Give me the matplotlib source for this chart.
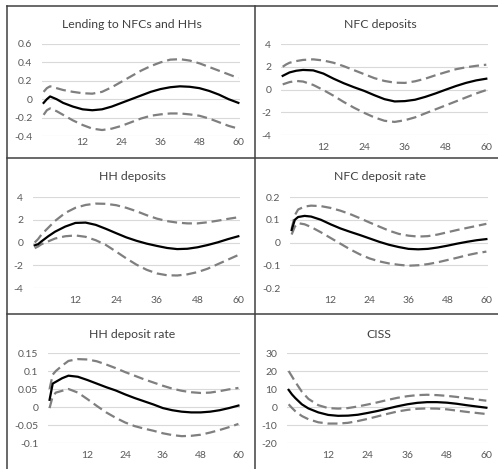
import matplotlib
matplotlib.use("Agg")
import matplotlib.pyplot as plt
from matplotlib.lines import Line2D

# Impulse responses (median and band) at selected horizons, in months
horizons = [0, 1, 2, 4, 6, 9, 12, 15, 18, 21, 24, 27, 30, 33, 36, 39, 42, 45, 48, 51, 54, 57, 60]

lending_mid = [-0.04, 0.0, 0.03, 0.0, -0.04, -0.08, -0.11, -0.12, -0.11, -0.08, -0.04, 0.0, 0.04,
               0.08, 0.11, 0.13, 0.14, 0.135, 0.12, 0.09, 0.05, 0.0, -0.04]
lending_lo = [-0.17, -0.12, -0.10, -0.13, -0.17, -0.23, -0.28, -0.32, -0.335, -0.32, -0.29, -0.25,
              -0.21, -0.18, -0.165, -0.155, -0.155, -0.165, -0.18, -0.21, -0.25, -0.29, -0.32]
lending_hi = [0.08, 0.12, 0.14, 0.12, 0.10, 0.08, 0.065, 0.06, 0.08, 0.13, 0.19, 0.25, 0.31, 0.36,
              0.40, 0.43, 0.435, 0.42, 0.39, 0.35, 0.31, 0.27, 0.23]

nfc_dep_mid = [1.2, 1.35, 1.5, 1.65, 1.72, 1.68, 1.4, 0.95, 0.55, 0.2, -0.12, -0.5, -0.85, -1.05,
               -1.02, -0.9, -0.65, -0.35, -0.02, 0.3, 0.58, 0.8, 0.95]
nfc_dep_lo = [0.45, 0.55, 0.65, 0.75, 0.7, 0.4, -0.05, -0.55, -1.1, -1.6, -2.05, -2.45, -2.75,
              -2.85, -2.7, -2.45, -2.1, -1.75, -1.4, -1.05, -0.7, -0.35, -0.05]
nfc_dep_hi = [2.0, 2.2, 2.35, 2.5, 2.6, 2.65, 2.55, 2.35, 2.05, 1.7, 1.35, 1.0, 0.75, 0.6, 0.58,
              0.72, 0.95, 1.25, 1.52, 1.78, 1.95, 2.08, 2.18]

hh_dep_mid = [-0.25, -0.15, 0.1, 0.55, 0.95, 1.4, 1.72, 1.75, 1.55, 1.2, 0.82, 0.45, 0.15, -0.1,
              -0.3, -0.48, -0.58, -0.55, -0.42, -0.22, 0.02, 0.3, 0.55]
hh_dep_lo = [-0.5, -0.35, -0.15, 0.1, 0.35, 0.55, 0.62, 0.5, 0.2, -0.22, -0.8, -1.4, -1.95, -2.4,
             -2.72, -2.88, -2.9, -2.8, -2.6, -2.3, -1.9, -1.5, -1.1]
hh_dep_hi = [0.0, 0.3, 0.7, 1.3, 1.9, 2.6, 3.05, 3.3, 3.42, 3.4, 3.28, 3.05, 2.75, 2.4, 2.1, 1.88,
             1.75, 1.68, 1.68, 1.78, 1.92, 2.08, 2.22]

nfc_rate_mid = [0.055, 0.1, 0.112, 0.117, 0.114, 0.1, 0.08, 0.062, 0.047, 0.033, 0.018, 0.003,
                -0.01, -0.02, -0.028, -0.03, -0.028, -0.022, -0.014, -0.005, 0.003, 0.01, 0.015]
nfc_rate_lo = [0.035, 0.07, 0.085, 0.08, 0.068, 0.045, 0.02, -0.005, -0.03, -0.052, -0.07, -0.083,
               -0.092, -0.098, -0.102, -0.1, -0.095, -0.087, -0.077, -0.067, -0.056, -0.047, -0.04]
nfc_rate_hi = [0.06, 0.12, 0.145, 0.158, 0.162, 0.16, 0.152, 0.14, 0.125, 0.107, 0.088, 0.07,
               0.052, 0.038, 0.03, 0.026, 0.028, 0.035, 0.045, 0.055, 0.064, 0.073, 0.082]

hh_rate_mid = [0.02, 0.065, 0.07, 0.08, 0.087, 0.084, 0.075, 0.065, 0.055, 0.046, 0.035, 0.025,
               0.016, 0.007, -0.003, -0.009, -0.013, -0.015, -0.015, -0.013, -0.009, -0.003, 0.004]
hh_rate_lo = [-0.003, 0.03, 0.04, 0.045, 0.05, 0.04, 0.022, 0.003, -0.015, -0.03, -0.043, -0.053,
              -0.06, -0.066, -0.073, -0.078, -0.081, -0.08, -0.077, -0.071, -0.064, -0.056, -0.047]
hh_rate_hi = [0.05, 0.09, 0.1, 0.115, 0.128, 0.133, 0.132, 0.127, 0.118, 0.108, 0.097, 0.087,
              0.077, 0.068, 0.059, 0.051, 0.045, 0.041, 0.039, 0.04, 0.044, 0.049, 0.053]

ciss_mid = [9.5, 7.0, 5.0, 1.5, -0.8, -3.0, -4.4, -4.9, -4.8, -4.3, -3.3, -2.2, -0.9, 0.4, 1.5,
            2.3, 2.7, 2.7, 2.4, 1.8, 1.0, 0.3, -0.4]
ciss_lo = [1.5, -0.5, -2.3, -5.0, -6.8, -8.5, -9.2, -9.2, -8.8, -7.8, -6.6, -5.2, -3.8, -2.5, -1.6,
           -1.0, -0.8, -0.9, -1.3, -2.0, -2.7, -3.3, -3.9]
ciss_hi = [20, 17, 14, 8.5, 4.5, 1.0, -0.6, -0.9, -0.6, 0.3, 1.4, 2.6, 3.9, 5.1, 6.0, 6.6, 6.8,
           6.6, 6.2, 5.6, 4.9, 4.2, 3.5]

titles = ["Lending to NFCs and HHs", "NFC deposits", "HH deposits",
          "NFC deposit rate", "HH deposit rate", "CISS"]
ytick_values = [
    [-0.4, -0.2, 0, 0.2, 0.4, 0.6],
    [-4, -2, 0, 2, 4],
    [-4, -2, 0, 2, 4],
    [-0.2, -0.1, 0, 0.1, 0.2],
    [-0.1, -0.05, 0, 0.05, 0.1, 0.15],
    [-20, -10, 0, 10, 20, 30],
]
xtick_values = [12, 24, 36, 48, 60]

series = [
    (lending_mid, lending_lo, lending_hi),
    (nfc_dep_mid, nfc_dep_lo, nfc_dep_hi),
    (hh_dep_mid, hh_dep_lo, hh_dep_hi),
    (nfc_rate_mid, nfc_rate_lo, nfc_rate_hi),
    (hh_rate_mid, hh_rate_lo, hh_rate_hi),
    (ciss_mid, ciss_lo, ciss_hi),
]

W, H = 498, 469
# plot boxes in pixels: left, top, right, bottom ; title centre ; x label pad
boxes = [(42, 44, 240, 136), (281, 44, 488, 135),
         (33, 197, 240, 288), (290, 197, 488, 288),
         (48, 353, 240, 443), (287, 353, 488, 443)]
title_pos = [(132, 25), (380, 25), (132, 176), (380, 176), (132, 334), (379, 334)]
xpads = [1.5, 5.5, 5.5, 5.5, 5.5, 5.5]

plt.rcParams['font.family'] = ['Lato', 'DejaVu Sans']

fig = plt.figure(figsize=(W / 100, H / 100), dpi=100)
fig.patch.set_facecolor('white')


def fmt(v):
    return '{:g}'.format(round(v, 4))


for i in range(6):
    l, t, r, b = boxes[i]
    ax = fig.add_axes([l / W, 1 - b / H, (r - l) / W, (b - t) / H])
    mid, lo, hi = series[i]
    band_style = dict(color='#7f7f7f', lw=1.6, dashes=(4.5, 2.2), dash_capstyle='butt',
                      clip_on=False)
    ax.plot(horizons, hi, **band_style)
    ax.plot(horizons, lo, **band_style)
    ax.plot(horizons, mid, color='black', lw=1.6, solid_joinstyle='round', clip_on=False)

    yt = ytick_values[i]
    ax.set_xlim(-0.5, 60.5)
    ax.set_ylim(yt[0], yt[-1])
    ax.set_yticks(yt)
    ax.set_yticklabels([fmt(v) for v in yt])
    ax.set_xticks(xtick_values)
    ax.set_xticklabels([str(v) for v in xtick_values])
    ax.grid(axis='y', color='#d9d9d9', lw=0.8)
    ax.set_axisbelow(True)
    for s in ax.spines.values():
        s.set_visible(False)
    ax.tick_params(axis='both', length=0, labelsize=7.5, colors='#595959')
    ax.tick_params(axis='y', pad=7)
    ax.tick_params(axis='x', pad=xpads[i])

    tx, ty = title_pos[i]
    fig.text(tx / W, 1 - ty / H, titles[i], ha='center', va='center', fontsize=8.8,
             color='#404040')

# panel frame lines
frame = dict(color='#404040', lw=1.1, transform=fig.transFigure)


def hline(y, x0, x1):
    fig.add_artist(Line2D([x0 / W, x1 / W], [1 - y / H, 1 - y / H], **frame))


def vline(x, y0, y1):
    fig.add_artist(Line2D([x / W, x / W], [1 - y0 / H, 1 - y1 / H], **frame))


hline(6, 7, W)
hline(158, 7, W)
hline(314, 7, W)
vline(7, 6, H)
vline(255, 6, H)

fig.savefig('out.png', dpi=100, facecolor='white')
